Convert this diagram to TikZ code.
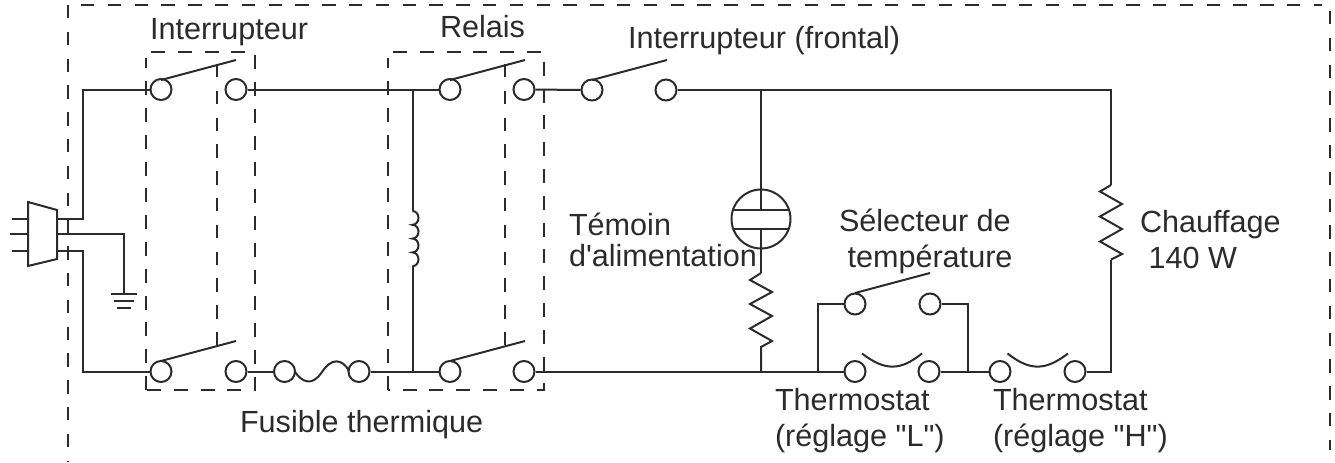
\documentclass[tikz,border=0pt]{standalone}
\usepackage{fontspec}
\newfontfamily\labelfont{Liberation Sans}
\usepackage{xcolor}
\definecolor{ink}{HTML}{2B2B2B}
\begin{document}
\begin{tikzpicture}[x=.5pt,y=-.5pt,line width=1pt,draw=ink,text=ink]
    \tikzstyle{every node}=[font=\labelfont\fontsize{15.3}{18}\selectfont,align=left,inner sep=0pt]
    \tikzstyle{t} = [draw,circle,minimum size=10.5pt,fill=white]
    \tikzstyle{w} = [draw,line join=miter]
    \tikzstyle{frame} = [draw,dash pattern=on 6.7pt off 6.7pt]
    \tikzstyle{box} = [draw,dash pattern=on 7pt off 6.4pt,line width=.55pt]
    \tikzstyle{gang} = [draw,dash pattern=on 6.7pt off 6.7pt,line width=1.2pt]
    \useasboundingbox (0,0) rectangle (1335,462);
    % frame
    \path [frame] (68,5) -- (68,462);
    \path [frame] (81,5) -- (1322,5);
    \path [frame] (1329.5,11) -- (1329.5,450);
    % boxes
    \path [box] (146,390) -- (146,58);
    \path [box] (151,52) -- (255,52) -- (255,390) -- (146,390);
    \path [box] (388,390) -- (388,58);
    \path [box] (393,52) -- (544,52) -- (544,390) -- (388,390);
    % plug
    \coordinate (p1) at (57,219);
    \coordinate (p2) at (57,234);
    \coordinate (p3) at (57,251);
    \coordinate (q1) at (28,219);
    \coordinate (q2) at (28,234);
    \coordinate (q3) at (28,251);
    \coordinate (e1) at (12,219);
    \coordinate (e2) at (10,234);
    \coordinate (e3) at (12,251);
    \path [w] (28,202) -- (57,210) -- (57,259) -- (28,266) -- cycle;
    \path [w] (e1) -- (q1);
    \path [w] (e2) -- (q2);
    \path [w] (e3) -- (q3);
    % terminals
    \node [t] (a1) at (161,89.5) {};
    \node [t] (a2) at (236,89.5) {};
    \node [t] (b1) at (161,371.5) {};
    \node [t] (b2) at (236,371.5) {};
    \node [t] (f1) at (284.5,371.5) {};
    \node [t] (f2) at (359,371.5) {};
    \node [t] (c1) at (450,89.5) {};
    \node [t] (c2) at (524,89.5) {};
    \node [t] (d1) at (450,371.5) {};
    \node [t] (d2) at (524,371.5) {};
    \node [t] (g1) at (592,90) {};
    \node [t] (g2) at (666,90) {};
    \node [t] (s1) at (855,304) {};
    \node [t] (s2) at (930,304) {};
    \node [t] (l1) at (855,371.5) {};
    \node [t] (l2) at (929,371.5) {};
    \node [t] (h1) at (1000,371.5) {};
    \node [t] (h2) at (1075,371.5) {};
    \node [draw,circle,minimum size=29.5pt] (lamp) at (761,219) {};
    % wires
    \path [w] (p1) -| (83,89.5) -- (a1);
    \path [w] (p3) -| (83,371.5) -- (b1);
    \coordinate (gnd) at (124,294);
    \path [w] (p2) -| (gnd);
    \path [w] (111,294) -- (137,294);
    \path [w] (114,301) -- (134,301);
    \path [w] (117,308) -- (131,308);
    \path [w] (a2) -- (c1);
    \path [w] (b2) -- (f1);
    \path [w] (f2) -- (d1);
    \path [w] (c2) -- (g1);
    \coordinate (j1) at (412.5,89.5);
    \coordinate (j2) at (412.5,371.5);
    \coordinate (j3) at (761,90);
    \coordinate (j4) at (761,371.5);
    \coordinate (j5) at (818,371.5);
    \coordinate (j6) at (968,371.5);
    \coordinate (j7) at (1111,90);
    \coordinate (j8) at (1111,371.5);
    \path [w] (g2) -- (j7) -- (1111,185);
    \path [w] (d2) -- (l1);
    \path [w] (l2) -- (h1);
    \path [w] (h2) -- (j8) -- (1111,259.5);
    \path [w] (j5) |- (s1);
    \path [w] (j6) |- (s2);
    % coil
    \path [w] (j1) -- (412.5,211);
    \path [w] (412.5,211) arc (-90:90:6 and 6.9) arc (-90:90:6 and 6.9) arc (-90:90:6 and 6.9) arc (-90:90:6 and 6.9);
    \path [w] (412.5,266) -- (j2);
    % fuse
    \path [w] (295,372) .. controls (302,382) and (312,387) .. (322,372) .. controls (331,358) and (342,358) .. (349,371);
    % arms
    \foreach \x/\y in {161/80,450/80,592/80,855/293,161/361,450/361} {
      \path [w] (\x,\y) -- ++(75,-20);
    }
    \path [gang] (217,64) -- (217,345);
    \path [gang] (505,64) -- (505,345);
    % thermostat blades
    \path [w] (862,353.5) .. controls (885,371) and (900,371) .. (922,353.5);
    \path [w] (1007.5,353.5) .. controls (1030,371) and (1045,371) .. (1068,353.5);
    % lamp
    \path [w] (j3) -- (lamp.north);
    \path [w] (733,210) -- (789,210);
    \path [w] (733,229) -- (789,229);
    \path [w] (761,190) -- (761,210);
    \path [w] (761,229) -- (761,273);
    % resistors
    \path [w] (761,273) -- (750,280) -- (772,292) -- (750,304) -- (772,316) -- (750,328.5) -- (772,341) -- (761,347) -- (j4);
    \path [w] (1111,185) -- (1100,191.5) -- (1122,204) -- (1100,216.5) -- (1122,229) -- (1100,241.5) -- (1122,254) -- (1111,259.5);
    % labels
    \node [anchor=base west] (la) at (149,39) {Interrupteur};
    \node [anchor=base west] (lb) at (439,37) {Relais};
    \node [anchor=base west] (lc) at (627,48) {Interrupteur (frontal)};
    \node [anchor=base west] (ld) at (568,266) {Témoin\\[-2.5pt]d'alimentation};
    \node [anchor=base west] (le) at (838,267) {Sélecteur de\\\ température};
    \node [anchor=base west] (lf) at (1139,268) {Chauffage\\\ 140 W};
    \node [anchor=base west] (lg) at (239,432) {Fusible thermique};
    \node [anchor=base west] (lh) at (774,446) {Thermostat\\(réglage "L")};
    \node [anchor=base west] (li) at (992,446) {Thermostat\\(réglage "H")};
  \end{tikzpicture}
\end{document}
